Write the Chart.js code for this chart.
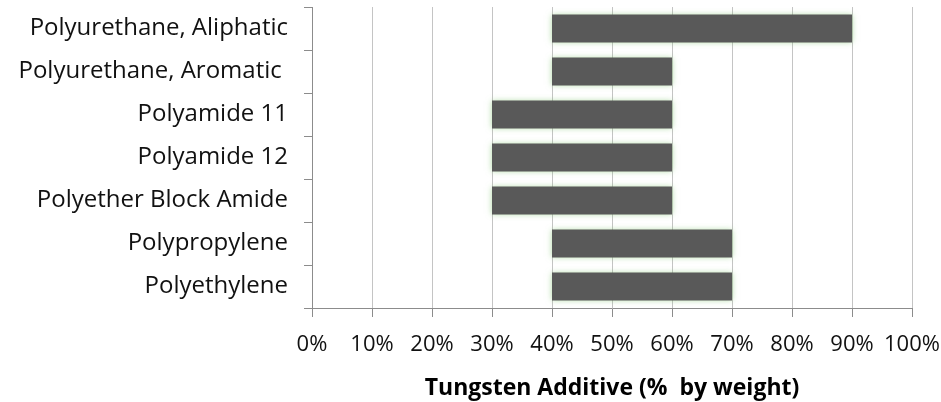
<!DOCTYPE html>
<html lang="en">
<head>
  <meta charset="UTF-8">
  <title>Tungsten Additive by Polymer</title>
  <script src="https://cdn.jsdelivr.net/npm/chart.js"></script>
  <style>
    html, body { margin: 0; padding: 0; background: #fff; }
    #wrap { width: 941px; height: 402px; }
  </style>
</head>
<body>
  <div id="wrap"><canvas id="chart"></canvas></div>

  <script>
    const polymers = [
      'Polyurethane, Aliphatic',
      'Polyurethane, Aromatic ',
      'Polyamide 11',
      'Polyamide 12',
      'Polyether Block Amide',
      'Polypropylene',
      'Polyethylene'
    ];
    const minPct = [40, 40, 30, 30, 30, 40, 40];
    const maxPct = [90, 60, 60, 60, 60, 70, 70];
    const xTicks = [0, 10, 20, 30, 40, 50, 60, 70, 80, 90, 100];

    const ranges = polymers.map((p, i) => [minPct[i], maxPct[i]]);

    // soft green glow around the bars, like the original
    const glow = {
      id: 'glow',
      beforeDatasetsDraw(chart) {
        const ctx = chart.ctx;
        ctx.save();
        ctx.shadowColor = 'rgba(110, 190, 90, 0.55)';
        ctx.shadowBlur = 6;
        ctx.shadowOffsetX = 0;
        ctx.shadowOffsetY = 0;
      },
      afterDatasetsDraw(chart) {
        chart.ctx.restore();
      }
    };

    const font = "'Open Sans', sans-serif";

    new Chart(document.getElementById('chart'), {
      type: 'bar',
      data: {
        labels: polymers,
        datasets: [{
          data: ranges,
          backgroundColor: '#595959',
          borderWidth: 0,
          barPercentage: 0.65,
          categoryPercentage: 1
        }]
      },
      plugins: [glow],
      options: {
        indexAxis: 'y',
        responsive: true,
        maintainAspectRatio: false,
        animation: false,
        layout: { padding: { top: 7, right: 29, left: 0, bottom: 0 } },
        plugins: {
          legend: { display: false },
          tooltip: { enabled: false }
        },
        scales: {
          x: {
            min: 0,
            max: 100,
            afterBuildTicks(scale) {
              scale.ticks = xTicks.map(v => ({ value: v }));
            },
            afterFit(scale) {
              scale.paddingLeft = 0;
              scale.paddingRight = 0;
            },
            grid: {
              color: '#c4c4c4',
              tickColor: '#8c8c8c',
              tickLength: 9
            },
            border: { color: '#8c8c8c' },
            ticks: {
              color: '#111',
              font: { family: font, size: 22 },
              padding: 15,
              maxRotation: 0,
              callback: v => v + '%'
            },
            title: {
              display: true,
              text: 'Tungsten Additive (%  by weight)',
              color: '#000',
              font: { family: font, size: 23, weight: 'bold' },
              padding: { top: 1, bottom: 0 }
            }
          },
          y: {
            afterFit(scale) {
              scale.width = 312;
              scale.paddingTop = 0;
              scale.paddingBottom = 0;
            },
            grid: {
              drawOnChartArea: false,
              tickColor: '#8c8c8c',
              tickLength: 8,
              offset: true
            },
            border: { color: '#8c8c8c' },
            ticks: {
              color: '#111',
              font: { family: font, size: 24 },
              padding: 16
            }
          }
        }
      }
    });
  </script>
</body>
</html>
